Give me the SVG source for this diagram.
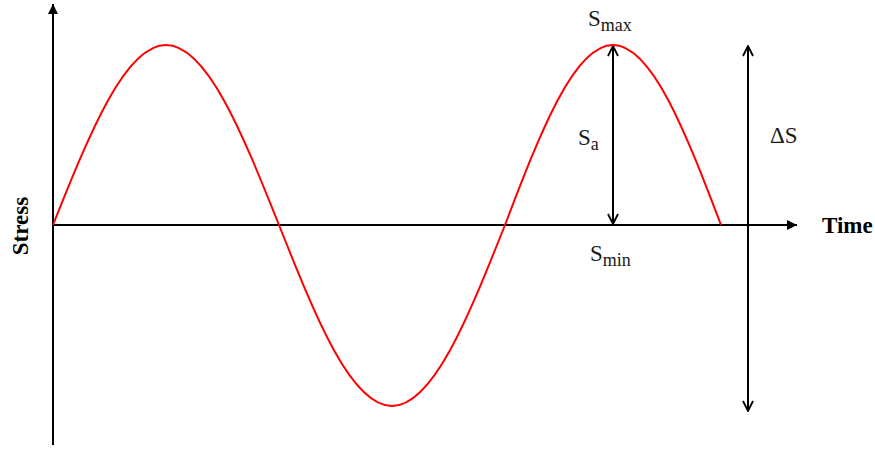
<svg xmlns="http://www.w3.org/2000/svg" width="875" height="450" viewBox="0 0 875 450">
<style>
.ax{stroke:#000;stroke-width:2;fill:none}
.curve{stroke:#ff0000;stroke-width:2;fill:none}
.lbl{font-family:"Liberation Serif","DejaVu Serif",serif;font-size:23px;fill:#1a1a1a}
.sub{font-size:18px}
.ttl{font-family:"Liberation Serif","Times New Roman",serif;font-size:23px;font-weight:bold;fill:#000}
</style>
<defs>
<marker id="tri" viewBox="0 0 10 10" refX="10" refY="5" markerWidth="10" markerHeight="10" markerUnits="userSpaceOnUse" orient="auto">
<path d="M0,0 L10,5 L0,10 Z" fill="#000"/>
</marker>
<marker id="chev" viewBox="0 0 12 12" refX="11" refY="6" markerWidth="12" markerHeight="12" markerUnits="userSpaceOnUse" orient="auto-start-reverse">
<path d="M1,1 L11,6 L1,11" fill="none" stroke="#000" stroke-width="1.8"/>
</marker>
</defs>
<g id="connectors">
<line id="y-axis" class="ax" x1="53" y1="445" x2="53" y2="4" marker-end="url(#tri)"/>
<line id="x-axis" class="ax" x1="53" y1="225" x2="797" y2="225" marker-end="url(#tri)"/>
<line id="sa-arrow" class="ax" x1="613" y1="224" x2="613" y2="46" marker-start="url(#chev)" marker-end="url(#chev)"/>
<line id="ds-arrow" class="ax" x1="748" y1="411" x2="748" y2="46" marker-start="url(#chev)" marker-end="url(#chev)"/>
</g>
<g id="sine">
<path class="curve" d="M53,225 C89.85,132.8 125.1,45 166,45 C206.9,45 242.15,132.8 279,225 C315.85,317.7 351.1,406 392,406 C432.9,406 468.15,317.7 505,225 C540.2,132.8 573.9,45 613,45 C652.1,45 685.8,132.8 721,225"/>
</g>
<g id="label-smax"><text class="lbl" x="588" y="26">S<tspan class="sub" dy="5">max</tspan></text></g>
<g id="label-sa"><text class="lbl" x="578" y="145">S<tspan class="sub" dy="5">a</tspan></text></g>
<g id="label-smin"><text class="lbl" x="590" y="261">S<tspan class="sub" dy="5">min</tspan></text></g>
<g id="label-ds"><text class="lbl" x="770" y="143">ΔS</text></g>
<g id="label-time"><text class="ttl" x="822" y="233">Time</text></g>
<g id="label-stress"><text class="ttl" transform="translate(28,226) rotate(-90)" text-anchor="middle">Stress</text></g>
</svg>
